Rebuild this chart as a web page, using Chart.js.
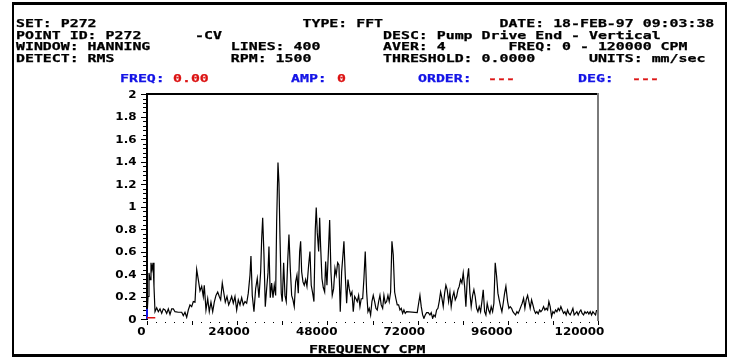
<!DOCTYPE html>
<html>
<head>
<meta charset="utf-8">
<script src="https://cdn.jsdelivr.net/npm/chart.js@4.4.1/dist/chart.umd.min.js"></script>
<style>
  html, body { margin:0; padding:0; background:#fff; }
  #wrap { position:relative; width:740px; height:361px; overflow:hidden; background:#fff; }
  #c { position:absolute; left:0; top:0; }
  #frame { position:absolute; left:12px; top:2px; width:715px; height:355px; box-sizing:border-box;
           border:2px solid #000; border-top-width:3px; border-bottom-width:3px; pointer-events:none; }
  .t { position:absolute; font-family:'DejaVu Sans Mono', monospace; font-weight:bold; font-size:10px;
       line-height:10px; white-space:pre; transform:scaleX(1.487); transform-origin:0 0; color:#000;
       -webkit-text-stroke:0.25px currentColor; }
  .b { color:#1414e6; }
  .r { color:#dc1414; }
</style>
</head>
<body>
<div id="wrap">
  <canvas id="c" width="740" height="361"></canvas>
  <div id="frame"></div>
  <div class="t" style="left:16px;top:19px">SET: P272                       TYPE: FFT             DATE: 18-FEB-97 09:03:38</div>
  <div class="t" style="left:16px;top:30.5px">POINT ID: P272      -CV                  DESC: Pump Drive End - Vertical</div>
  <div class="t" style="left:16px;top:42px">WINDOW: HANNING         LINES: 400       AVER: 4       FREQ: 0 - 120000 CPM</div>
  <div class="t" style="left:16px;top:53.5px">DETECT: RMS             RPM: 1500        THRESHOLD: 0.0000      UNITS: mm/sec</div>
  <div class="t b" style="left:120px;top:74px">FREQ:</div>
  <div class="t r" style="left:173px;top:74px">0.00</div>
  <div class="t b" style="left:290.5px;top:74px">AMP:</div>
  <div class="t r" style="left:336.5px;top:74px">0</div>
  <div class="t b" style="left:418px;top:74px">ORDER:</div>
  <div class="t r" style="left:488px;top:74px">---</div>
  <div class="t b" style="left:578px;top:74px">DEG:</div>
  <div class="t r" style="left:632px;top:74px">---</div>
  <div class="t" style="left:309px;top:344.5px">FREQUENCY CPM</div>
</div>
<script>
// ---- data (frequency in CPM, amplitude in mm/sec) ----
const freqs = [
  0,270,530,800,1060,1330,1600,1860,2130,2580,3010,3460,3910,4340,4790,5240,5670,6120,6570,7000,
  7450,8330,9230,9660,10110,10560,10990,11440,11890,12320,12770,13220,13650,14100,14550,14980,15240,15690,16150,16570,
  17020,17480,17900,18350,18810,19230,19600,20030,20400,20830,21280,21730,22080,22530,22960,23410,23860,24290,24740,25190,
  25620,26070,26520,26950,27400,27660,28010,28460,28910,29340,29790,30240,30510,30780,31120,31470,31840,32190,32450,32800,
  33170,33520,33860,34230,34500,34850,35110,35380,35720,35990,36360,36710,37050,37430,37770,38120,38490,38840,39180,39550,
  39900,40250,40620,40880,41150,41500,41840,42210,42560,43010,43360,43700,44080,44420,44770,45030,45300,45670,45940,46200,
  46550,46900,47270,47530,47880,48230,48600,48940,49290,49660,50010,50350,50730,51070,51420,51790,52140,52400,52750,53120,
  53470,53810,54180,54530,54880,55250,55590,55940,56310,56660,57000,57380,57720,58070,58440,58790,59130,59500,59850,60200,
  60570,60910,61260,61630,61980,62320,62700,63040,63390,63760,64110,64450,64820,65170,65520,65890,66230,66580,66950,67300,
  67640,68020,68360,68710,69080,71900,72280,72620,72970,73340,73680,74030,74400,74830,75280,75620,76000,76340,76690,77060,
  77410,77750,78120,78470,78820,79190,79530,79880,80250,80600,80940,81320,81660,82010,82380,82730,83070,83440,83790,84140,
  84510,84850,85200,85570,85920,86260,86640,86980,87330,87700,88050,88390,88760,89110,89460,89830,90170,90520,90890,91240,
  91580,91960,92300,92650,93020,93370,93710,94080,94430,94780,95150,95490,95950,96290,96640,97010,97360,97700,98070,98420,
  98770,99140,99480,99830,100200,100550,100890,101270,101610,101960,102330,102680,103020,103390,103740,104090,104460,104800,105150,105520,
  105870,106210,106590,106930,107280,107650,108000,108340,108710,109060,109410,109780,110120,110470,110840,111190,111530,111910,112250,112600,
  112970,113320,113660,114030,114380,114730,115100,115440,115790,116160,116510,116850,117230,117570,117920,118290,118640,118980,119350,119620
];
const amps = [
  0.02,0.2,0.41,0.35,0.50,0.44,0.50,0.29,0.065,0.10,0.065,0.09,0.05,0.09,0.08,0.05,0.09,0.04,0.09,0.09,
  0.065,0.06,0.06,0.03,0.06,0.015,0.08,0.125,0.11,0.155,0.15,0.44,0.35,0.25,0.29,0.20,0.30,0.08,0.18,0.065,
  0.15,0.065,0.15,0.21,0.24,0.20,0.17,0.32,0.24,0.15,0.20,0.125,0.155,0.20,0.14,0.20,0.08,0.17,0.125,0.19,
  0.125,0.155,0.14,0.23,0.39,0.56,0.21,0.065,0.27,0.36,0.19,0.42,0.71,0.90,0.57,0.11,0.27,0.41,0.645,0.19,
  0.32,0.19,0.30,0.21,0.87,1.39,1.21,0.735,0.23,0.155,0.50,0.21,0.155,0.51,0.75,0.45,0.21,0.17,0.11,0.33,
  0.39,0.23,0.60,0.69,0.42,0.33,0.30,0.35,0.29,0.48,0.60,0.30,0.23,0.155,0.79,0.99,0.77,0.60,0.90,0.645,
  0.36,0.28,0.24,0.51,0.30,0.57,0.88,0.42,0.21,0.27,0.45,0.39,0.50,0.48,0.065,0.42,0.57,0.69,0.39,0.14,
  0.35,0.27,0.21,0.24,0.065,0.20,0.18,0.155,0.21,0.11,0.18,0.18,0.36,0.60,0.24,0.065,0.095,0.035,0.155,0.21,
  0.155,0.095,0.08,0.155,0.21,0.125,0.095,0.21,0.14,0.155,0.21,0.155,0.24,0.69,0.57,0.24,0.18,0.125,0.125,0.08,
  0.095,0.05,0.08,0.05,0.065,0.056,0.14,0.21,0.11,0.036,0.006,0.036,0.056,0.056,0.036,0.056,0.006,0.036,0.02,0.08,
  0.095,0.155,0.24,0.185,0.11,0.23,0.30,0.26,0.155,0.24,0.11,0.20,0.24,0.17,0.20,0.26,0.29,0.35,0.32,0.41,
  0.29,0.11,0.35,0.45,0.23,0.11,0.21,0.26,0.20,0.095,0.065,0.11,0.065,0.155,0.26,0.065,0.036,0.14,0.08,0.05,
  0.11,0.065,0.14,0.50,0.38,0.23,0.17,0.11,0.065,0.14,0.23,0.29,0.155,0.095,0.11,0.095,0.065,0.05,0.036,0.065,
  0.05,0.08,0.11,0.14,0.185,0.095,0.17,0.21,0.155,0.095,0.17,0.125,0.08,0.05,0.065,0.045,0.08,0.065,0.08,0.11,
  0.08,0.095,0.08,0.155,0.11,0.02,0.065,0.05,0.08,0.065,0.095,0.075,0.11,0.08,0.05,0.065,0.036,0.08,0.05,0.036,
  0.065,0.095,0.036,0.05,0.065,0.036,0.065,0.08,0.05,0.036,0.065,0.05,0.065,0.045,0.065,0.036,0.065,0.05,0.036,0.08
];
const yTickValues = [0,0.2,0.4,0.6,0.8,1,1.2,1.4,1.6,1.8,2];
const yTickLabels = ['0','0.2','0.4','0.6','0.8','1','1.2','1.4','1.6','1.8','2'];
const xTickValues = [0,24000,48000,72000,96000,120000];
const xTickLabels = ['0','24000','48000','72000','96000','120000'];

const points = freqs.map((f, i) => ({x: f, y: amps[i]}));

const deco = {
  id: 'deco',
  afterDatasetsDraw(chart) {
    const {ctx, chartArea: a, scales: {x, y, xl}} = chart;
    ctx.save();
    ctx.fillStyle = '#000';
    ctx.fillRect(a.left - 1, a.top - 1, 2, a.bottom - a.top + 2);
    ctx.fillRect(a.left - 1, a.top - 1, a.right - a.left + 1, 2);
    ctx.fillStyle = '#7a7a7a';
    ctx.fillRect(a.right - 1, a.top - 1, 2, a.bottom - a.top + 3);
    ctx.fillStyle = '#000';
    for (let k = 0; k <= 50; k++) {
      const py = Math.round(y.getPixelForValue(k * 0.04));
      const len = (k % 5 === 0) ? 5 : 3;
      ctx.fillRect(a.left - 1 - len, py, len, 1);
    }
    for (let k = 0; k <= 50; k++) {
      const px = Math.round(x.getPixelForValue(k * 2400));
      if (k % 5 === 0) ctx.fillRect(px, a.bottom + 2, 1, 4);
      else ctx.fillRect(px, a.bottom + 3, 1, 1);
    }
    const x0 = x.getPixelForValue(0), y0 = y.getPixelForValue(0);
    ctx.fillStyle = '#1414e6';
    ctx.fillRect(x0 - 1, y.getPixelForValue(0.09), 2, y0 - y.getPixelForValue(0.09));
    ctx.fillStyle = '#dc1414';
    ctx.fillRect(x0, y0 - 2, x.getPixelForValue(2200) - x0, 1.5);
    ctx.fillStyle = '#000';
    ctx.font = 'bold 10.3px "DejaVu Sans"';
    ctx.textBaseline = 'alphabetic';
    yTickValues.forEach((v, i) => {
      const py = y.getPixelForValue(v);
      ctx.save();
      ctx.translate(a.left - 10.5, py + 3.8);
      ctx.scale(1.16, 1);
      ctx.textAlign = 'right';
      ctx.fillText(yTickLabels[i], 0, 0);
      ctx.restore();
    });
    xTickValues.forEach((v, i) => {
      const px = xl.getPixelForValue(v);
      ctx.save();
      ctx.translate(px, 334.8);
      ctx.scale(1.16, 1);
      ctx.textAlign = 'center';
      ctx.fillText(xTickLabels[i], 0, 0);
      ctx.restore();
    });
    ctx.restore();
  }
};

new Chart(document.getElementById('c'), {
  type: 'line',
  data: {
    datasets: [{
      data: points,
      borderColor: '#000',
      borderWidth: 1.2,
      pointRadius: 0,
      tension: 0,
      fill: false
    }]
  },
  options: {
    responsive: false,
    animation: false,
    events: [],
    layout: { padding: { left: 147, right: 142, top: 94, bottom: 42 } },
    plugins: { legend: { display: false }, tooltip: { enabled: false }, title: { display: false } },
    scales: {
      x: { type: 'linear', min: 0, max: 120000, display: false },
      xl: { type: 'linear', axis: 'x', position: 'bottom', min: 1507, max: 125069, display: false },
      y: { type: 'linear', min: 0, max: 2, display: false }
    }
  },
  plugins: [deco]
});
</script>
</body>
</html>
